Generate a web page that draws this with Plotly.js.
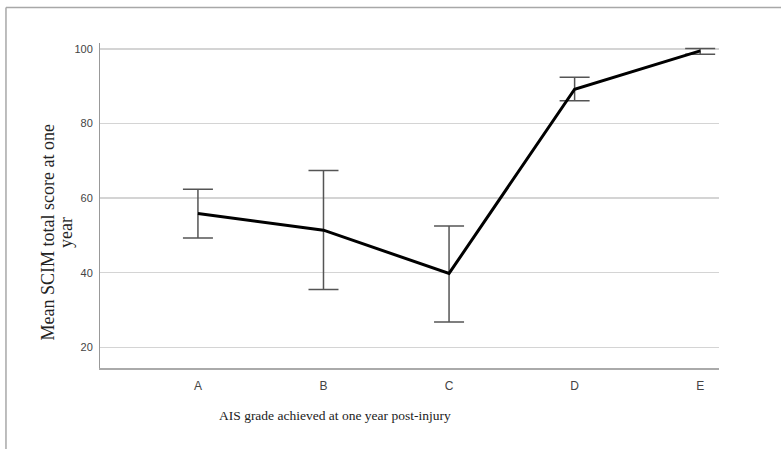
<!DOCTYPE html>
<html>
<head>
<meta charset="utf-8">
<script src="https://cdn.plot.ly/plotly-3.0.1.min.js"></script>
<style>
  html, body { margin: 0; padding: 0; background: #ffffff; }
  #chart { width: 781px; height: 449px; }
</style>
</head>
<body>
<div id="chart"></div>
<script>
// Data
const grades = ["A", "B", "C", "D", "E"];
const meanScim = [55.9, 51.4, 39.8, 89.2, 99.5];
const ciUpper = [62.4, 67.4, 52.5, 92.4, 100.1];
const ciLower = [49.3, 35.5, 26.8, 86.1, 98.6];
const yTicks = [20, 40, 60, 80, 100];

const errPlus = meanScim.map((m, i) => ciUpper[i] - m);
const errMinus = meanScim.map((m, i) => m - ciLower[i]);
const xIdx = grades.map((g, i) => i);

const trace = {
  type: "scatter",
  mode: "lines",
  x: xIdx,
  y: meanScim,
  line: { color: "#000000", width: 3 },
  error_y: {
    type: "data",
    symmetric: false,
    array: errPlus,
    arrayminus: errMinus,
    color: "#555555",
    thickness: 1.5,
    width: 15
  },
  hoverinfo: "skip"
};

const titleFont = { family: "Liberation Serif, Times New Roman, serif", size: 18, color: "#222222" };

const layout = {
  width: 781,
  height: 449,
  margin: { l: 100, r: 62, t: 43, b: 81 },
  paper_bgcolor: "#ffffff",
  plot_bgcolor: "#ffffff",
  showlegend: false,
  xaxis: {
    range: [-0.78, 4.15],
    tickmode: "array",
    tickvals: xIdx,
    ticktext: grades,
    showgrid: false,
    zeroline: false,
    showline: true,
    linecolor: "#aaaaaa",
    linewidth: 1.5,
    ticks: "",
    ticklabelstandoff: 6,
    tickfont: { family: "Liberation Sans, Arial, sans-serif", size: 12, color: "#444444" }
  },
  yaxis: {
    range: [14.44, 101.6],
    tickmode: "array",
    tickvals: yTicks,
    ticktext: yTicks.map(String),
    showgrid: true,
    gridcolor: "#d4d4d4",
    gridwidth: 1.5,
    zeroline: false,
    showline: true,
    linecolor: "#999999",
    linewidth: 1,
    ticks: "",
    ticklabelstandoff: 4,
    tickfont: { family: "Liberation Sans Narrow, Liberation Sans, Arial, sans-serif", size: 11, color: "#444444" }
  },
  annotations: [
    {
      text: "AIS grade achieved at one year post-injury",
      xref: "paper", yref: "paper",
      x: 0.3797, y: -0.145,
      xanchor: "center", yanchor: "middle",
      showarrow: false,
      font: { family: "Liberation Serif, Times New Roman, serif", size: 13.5, color: "#222222" }
    },
    {
      text: "Mean SCIM total score at one",
      xref: "paper", yref: "paper",
      x: -0.0848, y: 0.4154,
      xanchor: "center", yanchor: "middle",
      textangle: -90,
      showarrow: false,
      font: titleFont
    },
    {
      text: "year",
      xref: "paper", yref: "paper",
      x: -0.0549, y: 0.4154,
      xanchor: "center", yanchor: "middle",
      textangle: -90,
      showarrow: false,
      font: titleFont
    }
  ],
  shapes: [
    { type: "line", xref: "paper", yref: "paper", x0: -0.1519, x1: -0.1519, y0: -0.3, y1: 1.109,
      line: { color: "#a8a8a8", width: 1.5 } },
    { type: "line", xref: "paper", yref: "paper", x0: -0.1519, x1: 1.2, y0: 1.109, y1: 1.109,
      line: { color: "#a8a8a8", width: 1.5 } }
  ]
};

Plotly.newPlot("chart", [trace], layout, { displayModeBar: false, staticPlot: true });
</script>
</body>
</html>
